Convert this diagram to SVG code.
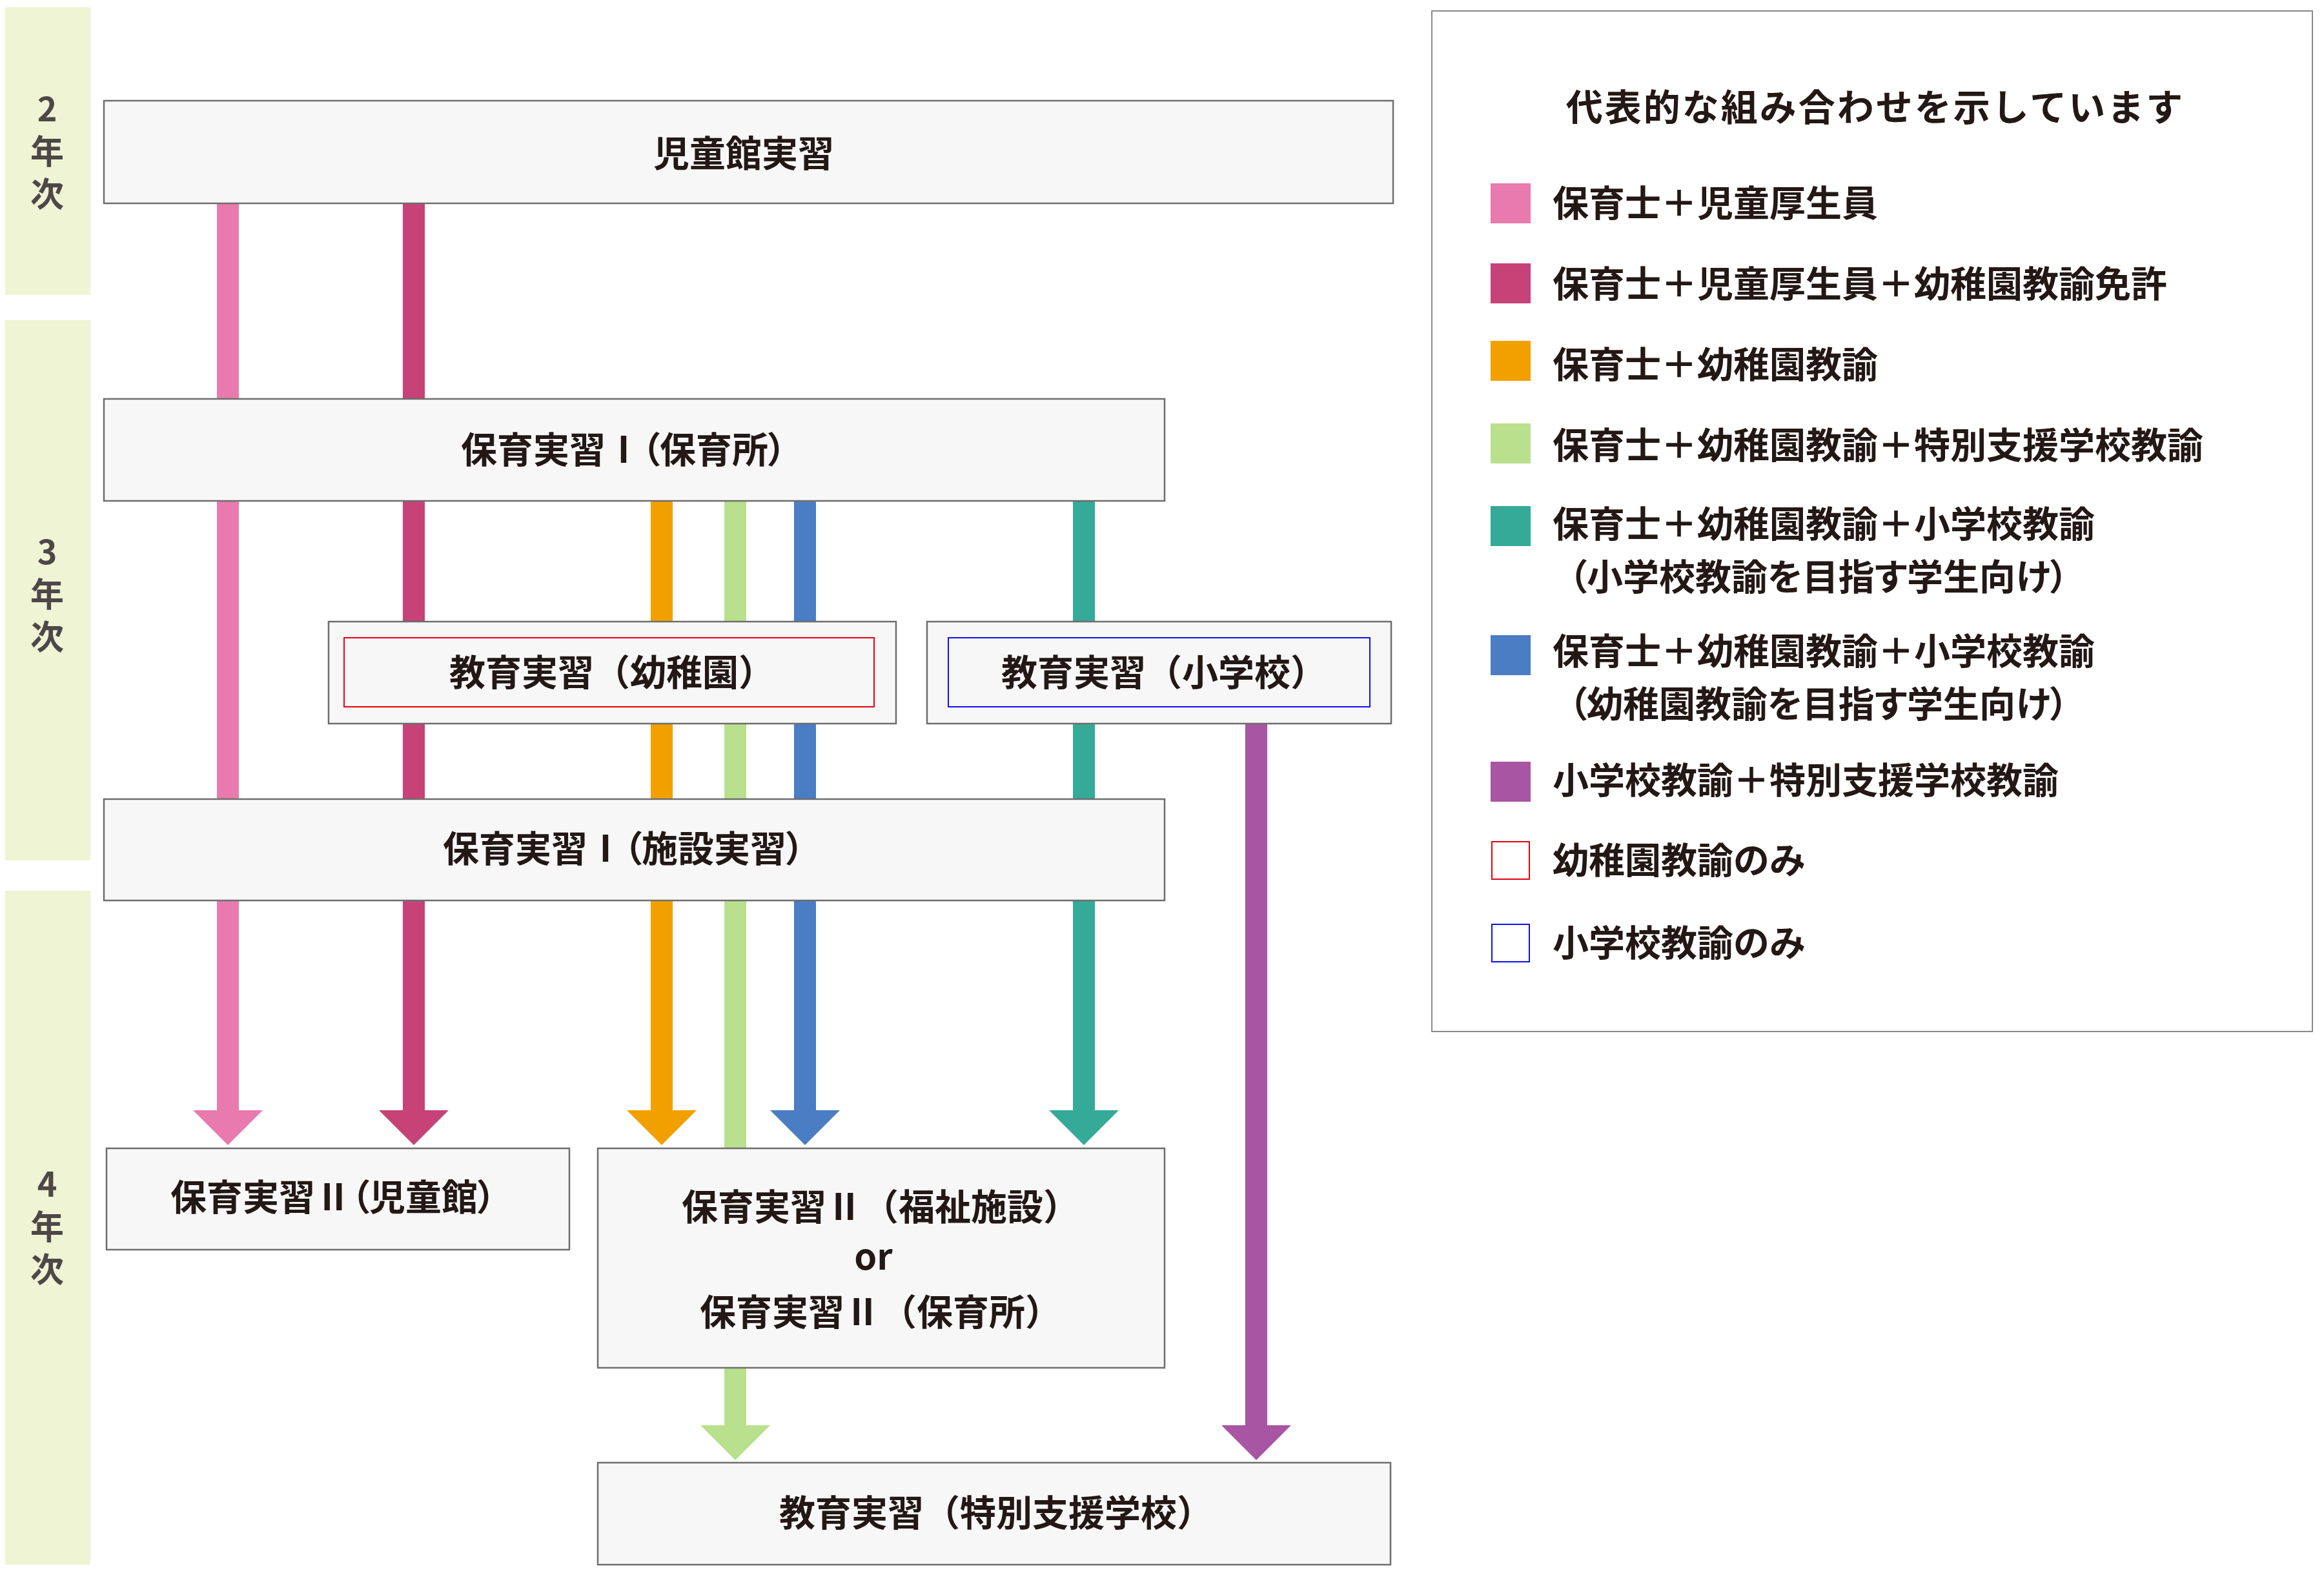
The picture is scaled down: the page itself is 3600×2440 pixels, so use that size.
<svg xmlns="http://www.w3.org/2000/svg" width="3600" height="2440" viewBox="0 0 3600 2440">
<style>
.band{fill:#EEF4D4}
.yr{font-family:"Noto Sans CJK JP","Noto Sans",sans-serif;font-size:52px;font-weight:700;fill:#4D4848;writing-mode:vertical-rl;text-orientation:upright;letter-spacing:14px}
.box{fill:#F7F7F7;stroke:#6E6E6E;stroke-width:2.5}
.lbl{font-family:"Noto Sans CJK JP","Noto Sans",sans-serif;font-size:56px;font-weight:700;fill:#231815;text-anchor:middle}
.palt{font-feature-settings:"palt"}
.lg{font-family:"Noto Sans CJK JP","Noto Sans",sans-serif;font-size:56px;font-weight:700;fill:#231815}
.pink{fill:#E87AAD}.dpink{fill:#C64277}.orange{fill:#F2A000}.lgreen{fill:#B9E08C}.blue{fill:#4A7DC3}.teal{fill:#35AA99}.purple{fill:#A855A3}
</style>
<rect width="3600" height="2440" fill="#FFFFFF"/>
<g id="years">
<rect class="band" x="8" y="11" width="132" height="446"/>
<rect class="band" x="8" y="496" width="132" height="837"/>
<rect class="band" x="8" y="1380" width="132" height="1044"/>
<text class="yr" x="73" y="142">2年次</text>
<text class="yr" x="73" y="828">3年次</text>
<text class="yr" x="73" y="1808">4年次</text>
</g>
<g id="connectors">
<path class="pink" d="M336,315 H370 V1720 H407 L353,1774 L299,1720 H336 Z"/>
<path class="dpink" d="M624,315 H658 V1720 H695 L641,1774 L587,1720 H624 Z"/>
<path class="orange" d="M1008,776 H1042 V1720 H1079 L1025,1774 L971,1720 H1008 Z"/>
<path class="lgreen" d="M1122,776 H1156 V2208 H1193 L1139,2262 L1085,2208 H1122 Z"/>
<path class="blue" d="M1230,776 H1264 V1720 H1301 L1247,1774 L1193,1720 H1230 Z"/>
<path class="teal" d="M1662,776 H1696 V1720 H1733 L1679,1774 L1625,1720 H1662 Z"/>
<path class="purple" d="M1929,1121 H1963 V2208 H2000 L1946,2262 L1892,2208 H1929 Z"/>
</g>
<g id="n-jidoukan">
<rect class="box" x="161" y="156" width="1997" height="159"/>
<text class="lbl" x="1152" y="258">児童館実習</text>
</g>
<g id="n-hoiku1">
<rect class="box" x="161" y="618" width="1643" height="158"/>
<text class="lbl palt" x="966" y="717">保育実習Ⅰ（保育所）</text>
</g>
<g id="n-youchien">
<rect class="box" x="509" y="963" width="879" height="158"/>
<rect x="533" y="988" width="821" height="107" fill="none" stroke="#E60012" stroke-width="2"/>
<text class="lbl" x="948" y="1062">教育実習（幼稚園）</text>
</g>
<g id="n-shougakkou">
<rect class="box" x="1436" y="963" width="719" height="158"/>
<rect x="1469" y="988" width="653" height="107" fill="none" stroke="#1010F0" stroke-width="2"/>
<text class="lbl" x="1803" y="1062">教育実習（小学校）</text>
</g>
<g id="n-shisetsu">
<rect class="box" x="161" y="1238" width="1643" height="157"/>
<text class="lbl palt" x="966" y="1335">保育実習Ⅰ（施設実習）</text>
</g>
<g id="n-jidoukan2">
<rect class="box" x="165" y="1779" width="717" height="157"/>
<text class="lbl palt" x="516" y="1875">保育実習Ⅱ（児童館）</text>
</g>
<g id="n-fukushi">
<rect class="box" x="926" y="1779" width="878" height="340"/>
<text class="lbl" x="1364" y="1890">保育実習Ⅱ（福祉施設）</text>
<text class="lbl" x="1353" y="1967">or</text>
<text class="lbl" x="1364" y="2053">保育実習Ⅱ（保育所）</text>
</g>
<g id="n-tokubetsu">
<rect class="box" x="926" y="2266" width="1228" height="158"/>
<text class="lbl" x="1543" y="2364">教育実習（特別支援学校）</text>
</g>
<g id="legend">
<rect x="2218" y="17" width="1364" height="1581" fill="#FFFFFF" stroke="#8A8A8A" stroke-width="2"/>
<text class="lg" x="2905" y="187" text-anchor="middle" style="font-size:57px;letter-spacing:3px">代表的な組み合わせを示しています</text>
<rect class="pink" x="2309" y="284" width="62" height="62"/>
<text class="lg" x="2405" y="335">保育士＋児童厚生員</text>
<rect class="dpink" x="2309" y="408" width="62" height="62"/>
<text class="lg" x="2405" y="460">保育士＋児童厚生員＋幼稚園教諭免許</text>
<rect class="orange" x="2309" y="528" width="62" height="62"/>
<text class="lg" x="2405" y="585">保育士＋幼稚園教諭</text>
<rect class="lgreen" x="2309" y="656" width="62" height="62"/>
<text class="lg" x="2405" y="710">保育士＋幼稚園教諭＋特別支援学校教諭</text>
<rect class="teal" x="2309" y="784" width="62" height="62"/>
<text class="lg"><tspan x="2405" y="832">保育士＋幼稚園教諭＋小学校教諭</tspan><tspan class="palt" x="2430" y="914">（小学校教諭を目指す学生向け）</tspan></text>
<rect class="blue" x="2309" y="984" width="62" height="62"/>
<text class="lg"><tspan x="2405" y="1029">保育士＋幼稚園教諭＋小学校教諭</tspan><tspan class="palt" x="2430" y="1111">（幼稚園教諭を目指す学生向け）</tspan></text>
<rect class="purple" x="2309" y="1180" width="62" height="62"/>
<text class="lg" x="2405" y="1229">小学校教諭＋特別支援学校教諭</text>
<rect x="2311" y="1304" width="58" height="58" fill="#FFFFFF" stroke="#E60012" stroke-width="2"/>
<text class="lg" x="2405" y="1353">幼稚園教諭のみ</text>
<rect x="2311" y="1432" width="58" height="58" fill="#FFFFFF" stroke="#1010F0" stroke-width="2"/>
<text class="lg" x="2405" y="1481">小学校教諭のみ</text>
</g>
</svg>
